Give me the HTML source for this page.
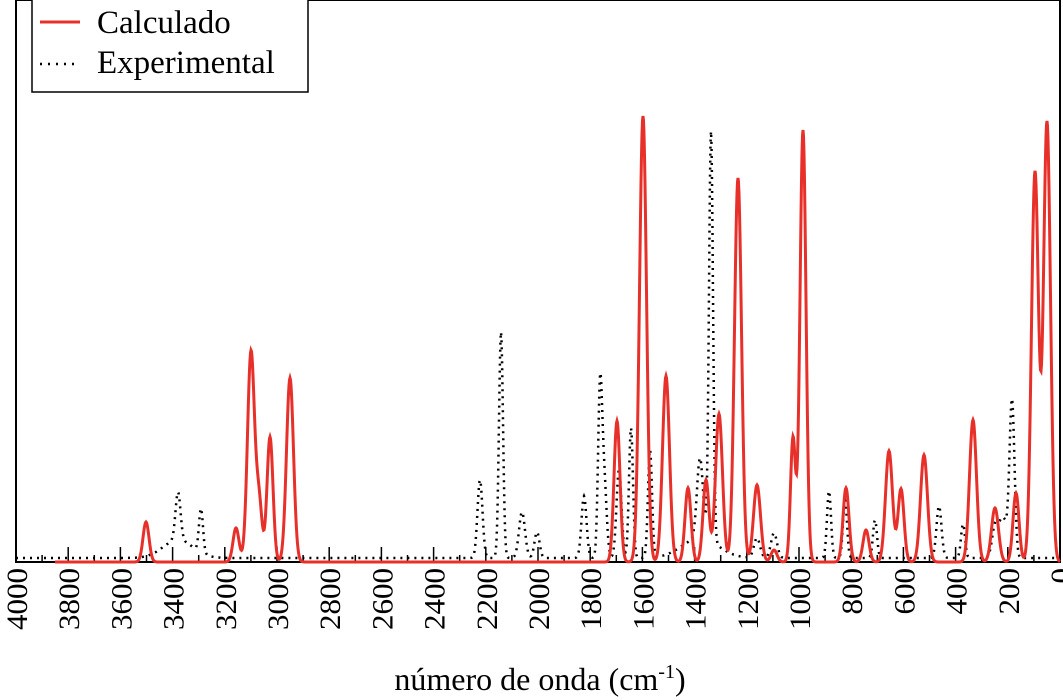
<!DOCTYPE html>
<html><head><meta charset="utf-8"><style>
body{margin:0;background:#fff;}
svg{display:block;font-family:"Liberation Serif",serif;}
</style></head><body>
<svg id="s" width="1063" height="700" viewBox="0 0 1063 700">
<rect x="16" y="0" width="1044" height="562" fill="none" stroke="#000" stroke-width="2"/>
<g id="ticks" stroke="#000" stroke-width="1.5"></g>
<g id="labels" font-size="31" fill="#000"></g>
<path id="exp" fill="none" stroke="#000" stroke-width="2.5" stroke-dasharray="2 5"/>
<path id="calc" fill="none" stroke="#e8302a" stroke-width="3"/>
<rect x="32" y="-2" width="276" height="94" fill="#fff" stroke="#000" stroke-width="1.5"/>
<line x1="40" y1="22" x2="80" y2="22" stroke="#e8302a" stroke-width="3"/>
<line x1="40" y1="64" x2="80" y2="64" stroke="#000" stroke-width="2.5" stroke-dasharray="2 6"/>
<text x="97" y="33" font-size="33">Calculado</text>
<text x="97" y="73" font-size="33">Experimental</text>
<text x="540" y="690" font-size="32" text-anchor="middle">número de onda (cm<tspan dy="-12" font-size="20">-1</tspan><tspan dy="12">)</tspan></text>
</svg>
<script>
function X(w){return 16+(4000-w)*0.261;}
var t=document.getElementById('ticks'),l=document.getElementById('labels'),ns='http://www.w3.org/2000/svg';
for(var w=4000;w>=0;w-=100){var x=X(w),maj=w%200==0;var e=document.createElementNS(ns,'line');
e.setAttribute('x1',x);e.setAttribute('x2',x);e.setAttribute('y1',562);e.setAttribute('y2',562-(maj?15:7));t.appendChild(e);
if(maj){var s=document.createElementNS(ns,'text');s.setAttribute('transform','translate('+(x+11)+',568) rotate(-90) scale(1,0.95)');s.setAttribute('text-anchor','end');s.textContent=w;l.appendChild(s);}}
var calc=[[146,40,3],[236,34,3],[251,210,3.5],[259,60,3],[270,125,3],[290,184,3.5],[617,141,3],[643,446,3.5],[666,186,3.5],[688,74,3],[706,82,3],[719,148,3.5],[738,384,3.5],[757,77,3.5],[774,12,3],[793,124,2.5],[803,432,3],[846,74,3],[866,32,3],[889,111,3.5],[901,73,3],[924,107,3.5],[973,142,3.5],[995,54,3.5],[1016,69,3],[1035,390,3.5],[1047,440,3.5]];
var exp=[[178,48,2.5],[201,44,2],[178,18,15],[480,78,2.5],[501,226,2],[522,46,3],[537,26,2.5],[584,62,2.5],[600,160,2],[604,80,2.5],[619,88,2.5],[631,130,2],[650,108,2],[700,80,3],[711,410,2],[700,20,18],[757,20,3],[774,25,3],[829,67,2],[845,58,2],[875,38,2],[939,52,2.5],[963,34,2],[995,30,3],[1003,40,4],[1012,156,2.5]];
function path(arr,base,x0){var d='';for(var x=x0;x<=1060;x+=0.5){var y=0;arr.forEach(function(p){var z=(x-p[0])/p[2];y+=p[1]*Math.exp(-z*z/2);});d+=(d?'L':'M')+x.toFixed(1)+' '+(base-y).toFixed(1);}return d;}
document.getElementById('calc').setAttribute('d',path(calc,562,55));
document.getElementById('exp').setAttribute('d',path(exp,558,16));
</script>
</body></html>
